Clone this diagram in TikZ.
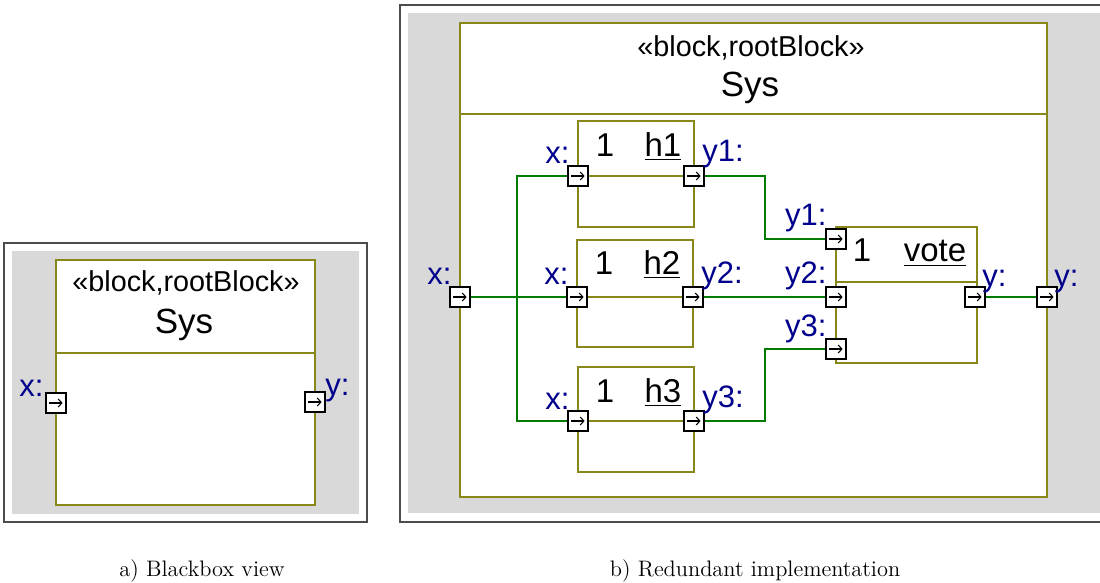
\documentclass[tikz,border=0pt]{standalone}
\usepackage{fontspec}
\newfontfamily\umlfont{Liberation Sans}
\usetikzlibrary{arrows.meta, fit, calc}

\definecolor{blockolive}{RGB}{136,136,26}
\definecolor{wiregreen}{RGB}{0,125,0}
\definecolor{portblue}{RGB}{0,0,140}
\definecolor{canvasgray}{RGB}{217,217,217}

\tikzset{
  frame/.style={draw=black!70, line width=0.8pt},
  canvas/.style={fill=canvasgray},
  blockbox/.style={draw=blockolive, fill=white, line width=0.9pt, inner sep=0pt},
  compline/.style={draw=blockolive, line width=0.9pt},
  port/.style={draw=black, fill=white, line width=0.8pt, minimum size=10.2pt, inner sep=0pt,
    path picture={\draw[line width=0.55pt, -{Straight Barb[length=1.8pt, width=4pt]}]
      ([xshift=1.8pt]path picture bounding box.west) -- ([xshift=-1.8pt]path picture bounding box.east);}},
  inlabel/.style={text=portblue, font=\umlfont\fontsize{15.5}{16}\selectfont, inner sep=0pt, anchor=base east},
  outlabel/.style={inlabel, anchor=base west},
  stereo/.style={font=\umlfont\fontsize{14.4}{16}\selectfont, inner sep=0pt, anchor=base},
  sysname/.style={font=\umlfont\fontsize{17.5}{18}\selectfont, inner sep=0pt, anchor=base},
  partname/.style={font=\umlfont\fontsize{16.5}{18}\selectfont, inner sep=0pt, anchor=base},
  wire/.style={draw=wiregreen, line width=0.8pt},
  caption/.style={font=\fontsize{11.2}{13}\selectfont, inner sep=0pt, anchor=base},
}

\begin{document}
\begin{tikzpicture}[x=0.5pt, y=-0.5pt]
  \useasboundingbox (0,0) rectangle (1100,583);

  % a) the system seen from outside
  \draw[frame] (4,243) rectangle (367,522);
  \fill[canvas] (12,251) rectangle (359,514);
  \node[blockbox, fit={(56,260) (315,505)}] (bbsys) {};
  \draw[compline] (56,353) -- (315,353);
  \node[stereo] (bbstereo) at (186,292) {«block,rootBlock»};
  \node[sysname] (bbname) at (184,334) {Sys};
  \node[port] (bbx) at (56,403) {};
  \node[port] (bby) at (315,402) {};
  \node[inlabel] (bbxlbl) at ($(bbx.north west)+(-1,4)$) {x:};
  \node[outlabel] (bbylbl) at ($(bby.north east)+(-1,4)$) {y:};

  % b) inside the system: three replicas and a voter
  \draw[frame] (400,5) rectangle (1110,522);
  \fill[canvas] (408,13) rectangle (1100,513);
  \node[blockbox, fit={(460,23) (1047,497)}] (sys) {};
  \draw[compline] (460,114) -- (1047,114);
  \node[stereo] (sysstereo) at (751,57) {«block,rootBlock»};
  \node[sysname] (sysname) at (750,97) {Sys};

  % replicas
  \node[blockbox, fit={(578,121) (694,227)}] (h1) {};
  \draw[compline] (578,176) -- (694,176);
  \node[partname] (h1mult) at (605,157) {1};
  \node[partname] (h1name) at (663,157) {\underline{h1}};

  \node[blockbox, fit={(577,240) (693,347)}] (h2) {};
  \draw[compline] (577,297) -- (693,297);
  \node[partname] (h2mult) at (604,275) {1};
  \node[partname] (h2name) at (662,275) {\underline{h2}};

  \node[blockbox, fit={(578,367) (694,472)}] (h3) {};
  \draw[compline] (578,421) -- (694,421);
  \node[partname] (h3mult) at (605,402) {1};
  \node[partname] (h3name) at (663,402) {\underline{h3}};

  % voter
  \node[blockbox, fit={(836,227) (977,363)}] (vote) {};
  \draw[compline] (836,282) -- (977,282);
  \node[partname] (votemult) at (862,262) {1};
  \node[partname] (votename) at (935,262) {\underline{vote}};

  % ports
  \node[port] (sysx) at (460,297) {};
  \node[port] (sysy) at (1047,297) {};
  \node[port] (h1x) at (578,176) {};
  \node[port] (h1y) at (694,176) {};
  \node[port] (h2x) at (577,297) {};
  \node[port] (h2y) at (693,297) {};
  \node[port] (h3x) at (578,421) {};
  \node[port] (h3y) at (694,421) {};
  \node[port] (vy1) at (836,239) {};
  \node[port] (vy2) at (836,297) {};
  \node[port] (vy3) at (836,349) {};
  \node[port] (vy) at (975,297) {};

  % port labels
  \node[inlabel] (sysxlbl) at ($(sysx.north west)+(3,-1)$) {x:};
  \node[outlabel] (sysylbl) at ($(sysy.north east)+(-4,1)$) {y:};
  \node[inlabel] (h1xlbl) at ($(h1x.north west)+(3,-1)$) {x:};
  \node[outlabel] (h1ylbl) at ($(h1y.north east)+(-3,-3)$) {y1:};
  \node[inlabel] (h2xlbl) at ($(h2x.north west)+(3,-1)$) {x:};
  \node[outlabel] (h2ylbl) at ($(h2y.north east)+(-3,-2)$) {y2:};
  \node[inlabel] (h3xlbl) at ($(h3x.north west)+(3,-1)$) {x:};
  \node[outlabel] (h3ylbl) at ($(h3y.north east)+(-3,-2)$) {y3:};
  \node[inlabel] (vy1lbl) at ($(vy1.north west)+(2,-2)$) {y1:};
  \node[inlabel] (vy2lbl) at ($(vy2.north west)+(2,-2)$) {y2:};
  \node[inlabel] (vy3lbl) at ($(vy3.north west)+(2,-2)$) {y3:};
  \node[outlabel] (vylbl) at ($(vy.north east)+(-4,1)$) {y:};

  % connectors
  \coordinate (fork) at (517,297);
  \draw[wire] (sysx) -- (h2x);
  \draw[wire] (h1x) -| (fork) |- (h3x);
  \draw[wire] (h1y) -| ($(h1y)!0.5!(vy1)$) |- (vy1);
  \draw[wire] (h2y) -- (vy2);
  \draw[wire] (h3y) -| ($(h3y)!0.5!(vy3)$) |- (vy3);
  \draw[wire] (vy) -- (sysy);

  % captions
  \node[caption] (capa) at (202,576) {a) Blackbox view};
  \node[caption] (capb) at (755,576) {b) Redundant implementation};
\end{tikzpicture}
\end{document}
